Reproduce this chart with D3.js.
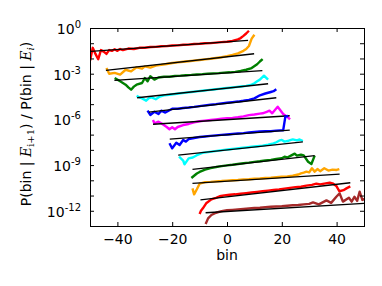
<!DOCTYPE html>
<html>
<head>
<meta charset="utf-8">
<script src="https://cdn.jsdelivr.net/npm/d3@7"></script>
<style>
  body { margin: 0; background: white; }
  svg { display: block; font-family: "DejaVu Sans", sans-serif; }
</style>
</head>
<body>
<div class="chart"></div>
<script>
const width = 382;
const height = 286;
const margin = { top: 28, right: 18, bottom: 60, left: 90 };

// each series: [bin, log10 ratio]
const s1 = [[-50,-2.15],[-49,-1.3],[-48,-1.7],[-47,-2.05],[-46,-1.45],[-45,-1.55],[-44,-1.7],[-43,-1.45],[-42,-1.5],[-41,-1.4],[-40,-1.5],[-39,-1.38],[-38,-1.45],[-36,-1.35],[-34,-1.38],[-32,-1.3],[-30,-1.3],[-28,-1.25],[-26,-1.24],[-24,-1.2],[-22,-1.19],[-20,-1.15],[-18,-1.14],[-16,-1.1],[-14,-1.09],[-12,-1.05],[-10,-1.03],[-8,-1.0],[-6,-0.99],[-4,-0.96],[-2,-0.93],[0,-0.9],[2,-0.85],[4,-0.75],[5,-0.66],[6,-0.52],[7,-0.36],[8,-0.18]];
const s2 = [[-44,-2.63],[-43,-3.0],[-41,-2.95],[-39,-3.06],[-37,-2.74],[-35,-2.85],[-33,-2.58],[-31,-2.67],[-30,-2.52],[-28,-2.6],[-26,-2.47],[-24,-2.42],[-22,-2.36],[-20,-2.3],[-18,-2.26],[-16,-2.22],[-14,-2.18],[-12,-2.14],[-10,-2.1],[-8,-2.06],[-6,-2.02],[-4,-1.97],[-2,-1.92],[0,-1.85],[2,-1.76],[4,-1.66],[6,-1.5],[7,-1.38],[8,-1.18],[9,-0.7],[10,-0.44]];
const s3 = [[-41,-3.28],[-39,-3.5],[-37,-3.72],[-36,-3.9],[-35,-4.05],[-34,-3.85],[-33,-3.72],[-31,-3.61],[-30,-3.28],[-29,-3.5],[-28,-3.17],[-26.5,-3.39],[-25,-3.25],[-23,-3.2],[-21,-3.2],[-19,-3.15],[-17,-3.13],[-15,-3.1],[-13,-3.08],[-11,-3.05],[-9,-3.03],[-7,-3.0],[-5,-2.98],[-3,-2.96],[-1,-2.93],[1,-2.91],[3,-2.88],[5,-2.82],[7,-2.74],[9,-2.63],[11,-2.38],[12,-2.2],[13,-2.04]];
const s4 = [[-33,-4.46],[-32,-4.55],[-31,-4.62],[-29.5,-4.77],[-28.5,-4.6],[-27.5,-4.55],[-26,-4.68],[-24.5,-4.5],[-23,-4.42],[-21,-4.38],[-19,-4.33],[-17,-4.28],[-15,-4.24],[-13,-4.2],[-11,-4.16],[-9,-4.12],[-7,-4.08],[-5,-4.04],[-3,-4.0],[-1,-3.96],[1,-3.92],[3,-3.88],[5,-3.84],[7,-3.8],[9,-3.72],[10,-3.63],[11,-3.5],[12,-3.39],[13.5,-3.13],[15,-3.39]];
const s5 = [[-29,-5.43],[-28,-5.71],[-26.5,-5.5],[-25,-5.65],[-24,-5.43],[-22.5,-5.55],[-21,-5.4],[-20,-5.3],[-18,-5.3],[-16,-5.25],[-14,-5.22],[-12,-5.18],[-10,-5.13],[-8,-5.08],[-6,-5.04],[-4,-5.0],[-2,-4.95],[0,-4.91],[2,-4.87],[4,-4.83],[6,-4.78],[8,-4.72],[10,-4.62],[12,-4.42],[14,-4.3],[16,-4.2],[17,-4.15],[18,-4.02]];
const s6 = [[-27,-6.04],[-26.5,-6.26],[-25,-6.15],[-24,-6.26],[-22,-6.5],[-21,-6.65],[-20,-6.52],[-19,-6.65],[-18,-6.5],[-16,-6.37],[-14,-6.3],[-12,-6.2],[-10,-6.12],[-8,-6.08],[-6,-6.04],[-4,-6.0],[-2,-5.96],[0,-5.93],[2,-5.9],[4,-5.86],[6,-5.8],[8,-5.72],[10,-5.68],[12,-5.62],[13,-5.6],[14.5,-5.5],[15.5,-5.43],[16.5,-5.6],[18.5,-5.17],[20.5,-5.65],[22,-5.82],[23,-6.0]];
const s7 = [[-21,-7.57],[-20,-7.9],[-18.5,-7.53],[-17.3,-7.68],[-16,-7.35],[-15,-7.46],[-14,-7.3],[-12,-7.22],[-10,-7.16],[-8,-7.12],[-6,-7.08],[-4,-7.05],[-2,-7.02],[0,-6.99],[2,-6.96],[4,-6.93],[6,-6.9],[8,-6.86],[10,-6.83],[12,-6.8],[14,-6.78],[16,-6.78],[18,-6.74],[19.5,-6.72],[20.5,-6.72],[21.3,-5.82],[22.3,-5.78]];
const s8 = [[-17.5,-8.45],[-16,-8.7],[-15.5,-8.95],[-14,-8.56],[-12.5,-8.5],[-11,-8.35],[-9,-8.2],[-7,-8.15],[-5,-8.1],[-3,-8.05],[-1,-8.0],[1,-7.96],[3,-7.92],[5,-7.88],[7,-7.84],[9,-7.8],[11,-7.76],[13,-7.72],[15,-7.66],[17,-7.58],[18,-7.5],[19,-7.4],[20,-7.35],[21,-7.46],[22.5,-7.4],[24,-7.31],[25.5,-7.38],[26.5,-7.32],[27.7,-7.42]];
const s9 = [[-13,-9.85],[-12,-9.7],[-11,-9.55],[-10,-9.45],[-8,-9.3],[-6,-9.2],[-4,-9.13],[-2,-9.07],[0,-9.02],[2,-8.98],[4,-8.93],[6,-8.88],[8,-8.84],[10,-8.79],[12,-8.75],[14,-8.7],[16,-8.66],[18,-8.6],[20,-8.55],[21,-8.45],[22,-8.5],[23.5,-8.36],[24.7,-8.25],[25.5,-8.38],[27,-8.32],[28,-8.36],[29.6,-8.78],[30.8,-8.93],[32,-8.38]];
const s10 = [[-12.6,-10.53],[-12,-10.92],[-11,-10.59],[-10,-10.22],[-8,-10.12],[-6,-10.1],[-4,-10.07],[-2,-10.05],[0,-10.02],[2,-10.0],[4,-9.98],[6,-9.95],[8,-9.93],[10,-9.9],[12,-9.88],[14,-9.85],[16,-9.83],[18,-9.8],[20,-9.77],[22,-9.74],[24,-9.7],[26,-9.62],[27,-9.55],[28,-9.5],[29,-9.43],[30,-9.48],[31,-9.21],[32,-9.43],[33,-9.26],[34,-9.4],[35.5,-9.21],[37,-9.36],[38.5,-9.3],[40,-9.32],[41,-9.26]];
const s11 = [[-10,-12.21],[-9.5,-12.0],[-8.8,-11.84],[-7.6,-11.51],[-5.7,-11.25],[-4,-11.15],[-2.7,-11.05],[-1,-10.99],[1,-10.95],[3,-10.92],[5,-10.88],[7,-10.84],[9,-10.8],[11,-10.76],[13,-10.72],[15,-10.68],[17,-10.64],[19,-10.6],[21,-10.55],[23,-10.5],[25,-10.45],[27,-10.42],[29,-10.35],[31,-10.3],[32.6,-10.22],[34,-10.27],[36,-10.2],[37.5,-10.16],[38.5,-10.2],[39.9,-10.37],[41,-10.72],[42.5,-10.65],[43.6,-10.53],[45,-10.4]];
const s12 = [[-7.8,-12.87],[-6.9,-12.5],[-5.7,-12.28],[-4,-12.13],[-2,-12.02],[0,-11.97],[2,-11.94],[4,-11.91],[6,-11.88],[8,-11.85],[10,-11.82],[12,-11.8],[14,-11.77],[16,-11.74],[18,-11.72],[20,-11.7],[22,-11.67],[24,-11.64],[26,-11.62],[28,-11.58],[30,-11.55],[31.4,-11.45],[33.5,-11.58],[36.3,-11.32],[38,-11.48],[39.9,-11.08],[41.1,-10.86],[42.3,-11.4],[44.5,-11.15],[45.5,-11.4],[46.5,-11.08],[47.5,-11.35],[48.4,-10.75],[49.4,-11.29],[50.4,-11.2]];

const seriesColors = ['red', 'orange', 'green', 'cyan', 'blue', 'magenta', 'blue', 'cyan', 'green', 'orange', 'red', 'brown'];

// black fit lines: [[bin, log10], [bin, log10]]
const fitLines = [
  [[-49.7,-1.53],[7.7,-0.81]],
  [[-44.2,-2.78],[9.9,-1.69]],
  [[-41.1,-3.44],[12.9,-2.80]],
  [[-32.8,-4.58],[15,-3.66]],
  [[-28.5,-5.53],[18,-4.58]],
  [[-27,-6.32],[22.9,-5.76]],
  [[-20.9,-7.29],[22.9,-6.70]],
  [[-17.8,-8.34],[27.7,-7.47]],
  [[-12.6,-9.28],[32,-8.38]],
  [[-12.6,-10.2],[41.1,-9.59]],
  [[-9.7,-11.29],[45,-10.16]],
  [[-7.8,-12.13],[50.4,-11.51]]
];

const xTicks = [-40, -20, 0, 20, 40];
const yTickExps = [0, -1, -2, -3, -4, -5, -6, -7, -8, -9, -10, -11, -12];
const yLabelExps = [0, -3, -6, -9, -12];

const ratioSeries = [s1, s2, s3, s4, s5, s6, s7, s8, s9, s10, s11, s12];

const svg = d3.select("div.chart").append("svg")
  .attr("width", width)
  .attr("height", height);

const scaleX = d3.scaleLinear()
  .domain([-50, 50])
  .range([margin.left, width - margin.right]);

const scaleY = d3.scaleLog()
  .domain([1e-13, 1])
  .range([height - margin.bottom, margin.top]);

const plotW = width - margin.left - margin.right;
const plotH = height - margin.top - margin.bottom;

svg.append('clipPath')
  .attr('id', 'plot-clip')
  .append('rect')
  .attr('x', margin.left)
  .attr('y', margin.top)
  .attr('width', plotW)
  .attr('height', plotH);

const line = d3.line()
  .x(d => scaleX(d[0]))
  .y(d => scaleY(Math.pow(10, d[1])));

// data lines, each followed by its fit
const lines = svg.append('g').attr('clip-path', 'url(#plot-clip)');
ratioSeries.forEach((pts, i) => {
  lines.append('path')
    .attr('d', line(pts))
    .attr('fill', 'none')
    .attr('stroke', seriesColors[i])
    .attr('stroke-width', 2.4)
    .attr('stroke-linejoin', 'round');
  lines.append('path')
    .attr('d', line(fitLines[i]))
    .attr('fill', 'none')
    .attr('stroke', 'black')
    .attr('stroke-width', 1.3);
});

// axes, ticks inward
const tickValsY = yTickExps.map(e => Math.pow(10, e));

const xAxisG = svg.append('g')
  .attr('transform', `translate(0, ${height - margin.bottom})`)
  .call(d3.axisBottom(scaleX).tickValues(xTicks).tickSizeInner(-4).tickSizeOuter(0).tickPadding(8));

svg.append('g')
  .attr('transform', `translate(0, ${margin.top})`)
  .call(d3.axisTop(scaleX).tickValues(xTicks).tickSizeInner(-4).tickSizeOuter(0).tickFormat(''));

const yAxisG = svg.append('g')
  .attr('transform', `translate(${margin.left}, 0)`)
  .call(d3.axisLeft(scaleY).tickValues(tickValsY).tickSizeInner(-4).tickSizeOuter(0).tickFormat(''));

svg.append('g')
  .attr('transform', `translate(${width - margin.right}, 0)`)
  .call(d3.axisRight(scaleY).tickValues(tickValsY).tickSizeInner(-4).tickSizeOuter(0).tickFormat(''));

svg.selectAll('.domain').remove();
svg.selectAll('.tick line').attr('stroke', 'black');

xAxisG.selectAll('text')
  .attr('font-size', 14)
  .attr('font-family', '"DejaVu Sans", sans-serif')
  .attr('fill', 'black');

// y tick labels as 10^n
yAxisG.selectAll('.tick')
  .filter(d => yLabelExps.includes(Math.round(Math.log10(d))))
  .append('text')
  .attr('x', -9)
  .attr('y', 5.5)
  .attr('text-anchor', 'end')
  .attr('fill', 'black')
  .attr('font-size', 14)
  .attr('font-family', '"DejaVu Sans", sans-serif')
  .each(function (d) {
    const e = Math.round(Math.log10(d));
    const t = d3.select(this);
    t.append('tspan').text('10');
    t.append('tspan')
      .attr('font-size', 10)
      .attr('dy', -6)
      .text(e === 0 ? '0' : `-${-e}`);
  });

// frame
svg.append('rect')
  .attr('x', margin.left)
  .attr('y', margin.top)
  .attr('width', plotW)
  .attr('height', plotH)
  .attr('fill', 'none')
  .attr('stroke', 'black')
  .attr('stroke-width', 1)
  .attr('shape-rendering', 'crispEdges');

// x label
svg.append('text')
  .attr('x', margin.left + plotW / 2)
  .attr('y', 260)
  .attr('text-anchor', 'middle')
  .attr('font-size', 14)
  .text('bin');

// y label
const yLabel = svg.append('text')
  .attr('transform', `translate(31, ${margin.top + plotH / 2 - 3}) rotate(-90)`)
  .attr('text-anchor', 'middle')
  .attr('font-size', 14);
yLabel.append('tspan').text('P(bin | ');
yLabel.append('tspan').attr('font-family', '"DejaVu Serif", serif').attr('font-style', 'italic').text('E');
yLabel.append('tspan').attr('font-family', '"DejaVu Serif", serif').attr('font-size', 10).attr('dy', 3).text('i+1');
yLabel.append('tspan').attr('dy', -3).text(') / P(bin | ');
yLabel.append('tspan').attr('font-family', '"DejaVu Serif", serif').attr('font-style', 'italic').text('E');
yLabel.append('tspan').attr('font-family', '"DejaVu Serif", serif').attr('font-style', 'italic').attr('font-size', 10).attr('dy', 3).text('i');
yLabel.append('tspan').attr('dy', -3).text(')');
</script>
</body>
</html>
